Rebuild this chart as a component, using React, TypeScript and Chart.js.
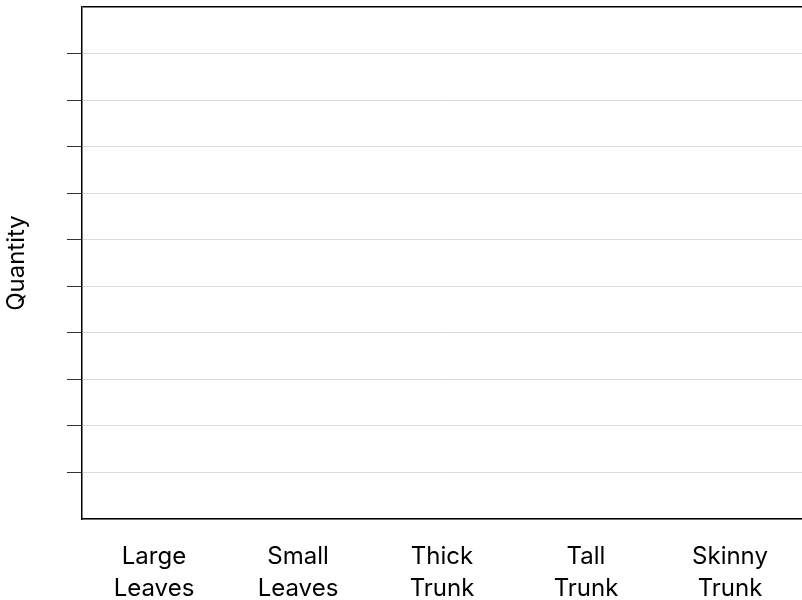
import { useEffect, useRef } from 'react';
import { Chart, registerables } from 'chart.js';

Chart.register(...registerables);

const categories: string[][] = [
  ['Large', 'Leaves'],
  ['Small', 'Leaves'],
  ['Thick', 'Trunk'],
  ['Tall', 'Trunk'],
  ['Skinny', 'Trunk'],
];
const quantities: number[] = [0, 0, 0, 0, 0];
const yMin = 0;
const yMax = 11;
const yStep = 1;
const yTitle = 'Quantity';

const FONT = 'Inter';

export default function App() {
  const ref = useRef<HTMLCanvasElement | null>(null);

  useEffect(() => {
    if (!ref.current) return;
    const chart = new Chart(ref.current, {
      type: 'bar',
      data: {
        labels: categories,
        datasets: [
          {
            label: yTitle,
            data: quantities,
            backgroundColor: '#4a4a4a',
            borderWidth: 0,
          },
        ],
      },
      options: {
        animation: false,
        responsive: false,
        devicePixelRatio: 1,
        layout: { padding: { top: 7, left: 0, right: 0, bottom: 0 } },
        plugins: {
          legend: { display: false },
          tooltip: { enabled: false },
        },
        scales: {
          x: {
            grid: { display: false, drawTicks: false },
            border: { display: true, color: '#000', width: 1.5 },
            ticks: {
              color: '#000',
              padding: 22,
              maxRotation: 0,
              autoSkip: false,
              font: { family: FONT, size: 24, lineHeight: 1.333 },
            },
            afterFit: (s: any) => {
              s.height = 81;
            },
          },
          y: {
            min: yMin,
            max: yMax,
            ticks: { display: false, stepSize: yStep },
            grid: {
              lineWidth: (ctx: any) => (ctx.tick && ctx.tick.value === yMax ? 1.5 : 1),
              tickLength: 15,
              color: (ctx: any) => (ctx.tick && ctx.tick.value === yMax ? '#000' : '#dcdcdc'),
              tickColor: (ctx: any) =>
                ctx.tick && (ctx.tick.value === yMax || ctx.tick.value === yMin) ? 'rgba(0,0,0,0)' : '#333',
            },
            border: { display: true, color: '#000', width: 1.5 },
            title: {
              display: true,
              text: yTitle,
              color: '#000',
              font: { family: FONT, size: 24, lineHeight: 1.333 },
              padding: { top: 1, bottom: 34 },
            },
            afterFit: (s: any) => {
              s.width = 82;
            },
          },
        },
      },
    });
    return () => chart.destroy();
  }, []);

  return (
    <div style={{ position: 'fixed', left: 0, top: 0, width: 802, height: 600, background: '#fff' }}>
      <canvas ref={ref} width={802} height={600} />
    </div>
  );
}
